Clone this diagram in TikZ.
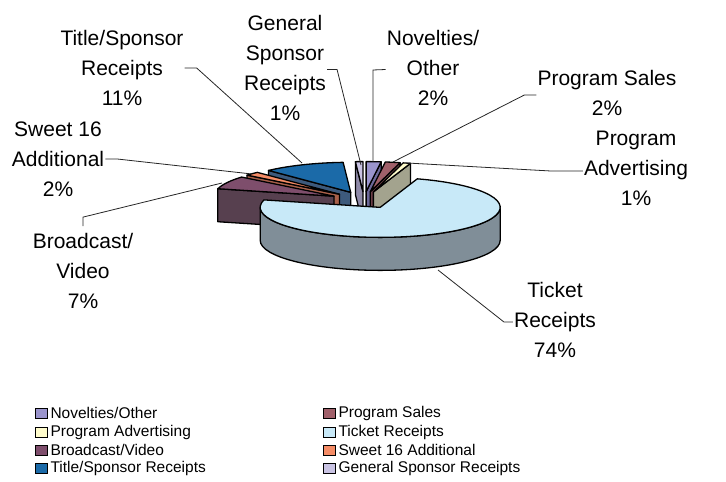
\documentclass[tikz,border=0pt]{standalone}
\usepackage{fontspec}
\setmainfont{Liberation Sans}
\usetikzlibrary{calc}

\definecolor{novtop}{HTML}{9A94CC}
\definecolor{novside}{HTML}{6C6899}
\definecolor{salestop}{HTML}{A0606A}
\definecolor{salesside}{HTML}{6E4048}
\definecolor{advtop}{HTML}{FFFCCC}
\definecolor{advside}{HTML}{A3A38E}
\definecolor{tickettop}{HTML}{C8E9F8}
\definecolor{ticketside}{HTML}{808E98}
\definecolor{broadtop}{HTML}{7E4E6C}
\definecolor{broadside}{HTML}{57404F}
\definecolor{sweettop}{HTML}{F58C66}
\definecolor{sweetside}{HTML}{A8604A}
\definecolor{titletop}{HTML}{1B6AA8}
\definecolor{titleside}{HTML}{3D5A7C}
\definecolor{gentop}{HTML}{C9C3E3}
\definecolor{genside}{HTML}{8F8AA8}

\tikzset{
  slice/.style={draw=black, line width=1.3pt, line join=round},
  callout/.style={align=center, inner sep=1pt, font=\fontsize{21}{30}\selectfont},
  leader/.style={draw=black!85, line width=0.8pt},
  legendbox/.style={draw=black, line width=0.6pt, minimum width=12pt, minimum height=10pt, inner sep=0pt},
  legendtext/.style={anchor=west, inner sep=0pt, font=\fontsize{15.5}{17}\selectfont}
}

\begin{document}
\begin{tikzpicture}[x=1pt, y=1pt]
  \useasboundingbox (0, 0) rectangle (726, 482);

  % pie centre, rx = 120, ry = 30, depth 33, explode 0.28
  \coordinate (pie) at (364, 282);

  % slices back to front: start / end / top / side / front rim from / to
  \foreach \a / \b / \topc / \sidec / \fa / \fb in {
    90/93.6/gentop/genside/0/0,
    82.8/90/novtop/novside/0/0,
    75.6/82.8/salestop/salesside/0/0,
    72/75.6/advtop/advside/0/0,
    93.6/133.2/titletop/titleside/0/0,
    133.2/140.4/sweettop/sweetside/0/0,
    140.4/165.6/broadtop/broadside/0/0,
    -194.4/72/tickettop/ticketside/-180/0
  }{
    \pgfmathsetmacro\m{(\a+\b)/2}
    \coordinate (apex) at ($(pie)+(\m:33.6 and 8.4)$);
    \pgfmathtruncatemacro\showa{cos(\a)>0.01}
    \pgfmathtruncatemacro\showb{cos(\b)<-0.01}
    \ifnum\showa=1
      \draw[slice, fill=\sidec] (apex) -- ++(\a:120 and 30) -- ++(0, -33) -- ($(apex)+(0, -33)$) -- cycle;
    \fi
    \ifnum\showb=1
      \draw[slice, fill=\sidec] (apex) -- ++(\b:120 and 30) -- ++(0, -33) -- ($(apex)+(0, -33)$) -- cycle;
    \fi
    \ifdim \fa pt=\fb pt \else
      \draw[slice, fill=\sidec] ($(apex)+(\fa:120 and 30)$)
        arc[start angle=\fa, end angle=\fb, x radius=120, y radius=30] -- ++(0, -33)
        arc[start angle=\fb, end angle=\fa, x radius=120, y radius=30] -- cycle;
    \fi
    \draw[slice, fill=\topc] (apex) -- ++(\a:120 and 30)
      arc[start angle=\a, end angle=\b, x radius=120, y radius=30] -- cycle;
  }

  % callouts
  \node[callout] (general) at (285, 414.5) {General\\Sponsor\\Receipts\\1\%};
  \node[callout] (title) at (122, 414) {Title/Sponsor\\Receipts\\11\%};
  \node[callout] (sweet) at (58, 323) {Sweet 16\\Additional\\2\%};
  \node[callout] (broadcast) at (83, 211) {Broadcast/\\Video\\7\%};
  \node[callout] (novelties) at (433, 414.5) {Novelties/\\Other\\2\%};
  \node[callout] (sales) at (607, 389) {Program Sales\\2\%};
  \node[callout] (adv) at (636, 314) {Program\\Advertising\\1\%};
  \node[callout] (ticket) at (555, 162) {Ticket\\Receipts\\74\%};

  \coordinate (general-tip) at (361, 317);
  \coordinate (title-tip) at (302, 319);
  \coordinate (sweet-tip) at (252, 308);
  \coordinate (broadcast-tip) at (222, 299);
  \coordinate (novelties-tip) at (373, 320);
  \coordinate (sales-tip) at (393, 320);
  \coordinate (adv-tip) at (407, 319);
  \coordinate (ticket-tip) at (438, 212);

  \draw[leader] ([yshift=-2pt]general.east) -- ++(10, 0) -- (general-tip);
  \draw[leader] (title.east) -- ++(12, 0) -- (title-tip);
  \draw[leader] (sweet.east) -- ++(12, 0) -- (sweet-tip);
  \draw[leader] ([yshift=6pt]broadcast.north) -- ++(0, 9) -- (broadcast-tip);
  \draw[leader] ([yshift=-2pt]novelties.west) -- (novelties-tip |- 0, 412) -- (novelties-tip);
  \draw[leader] ([yshift=-2pt]sales.west) -- ++(-12, 0) -- (sales-tip);
  \draw[leader] ([yshift=-3pt]adv.west) -- ++(-32, 0) -- (adv-tip);
  \draw[leader] ([yshift=-2pt]ticket.west) -- ++(-9, 0) -- (ticket-tip);

  % legend
  \foreach \name / \col / \x / \y / \txt in {
    nov/novtop/41/69/{Novelties/Other},
    adv/advtop/41/50/{Program Advertising},
    broad/broadtop/41/32/{Broadcast/Video},
    title/titletop/41/14/{Title/Sponsor Receipts},
    sales/salestop/329/69/{Program Sales},
    ticket/tickettop/329/50/{Ticket Receipts},
    sweet/sweettop/329/32/{Sweet 16 Additional},
    gen/gentop/329/14/{General Sponsor Receipts}
  }{
    \node[legendbox, fill=\col] (key-\name) at (\x, \y) {};
    \node[legendtext] (text-\name) at ([xshift=3pt]key-\name.east) {\txt};
  }
\end{tikzpicture}
\end{document}
